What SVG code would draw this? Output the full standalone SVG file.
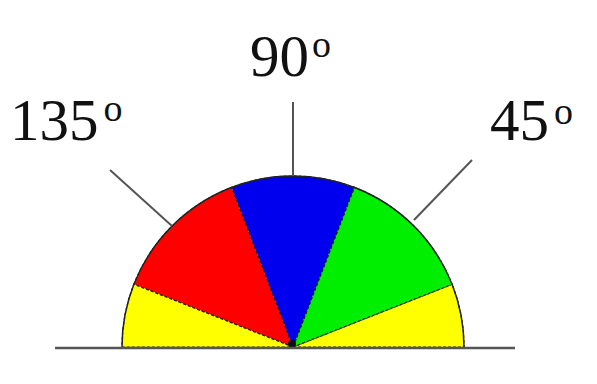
<svg xmlns="http://www.w3.org/2000/svg" width="597" height="384" viewBox="0 0 597 384">
<style>
.lbl{font-family:"Liberation Serif","Times New Roman",serif;font-size:59px;fill:#111}
.sup{font-size:38px}
.seg{stroke:#222;stroke-width:1.2;stroke-dasharray:3 2;stroke-linejoin:round}
.ptr{stroke:#555;stroke-width:2;fill:none}
</style>
<rect width="597" height="384" fill="#ffffff"/>
<g id="dial">
<path id="yellow-right" class="seg" fill="#ffff00" d="M293 347 L464 347 A171 171 0 0 0 452.1 284.3 Z"/>
<path id="green" class="seg" fill="#00ee00" d="M293 347 L452.1 284.3 A171 171 0 0 0 354.3 187.4 Z"/>
<path id="blue" class="seg" fill="#0000ee" d="M293 347 L354.3 187.4 A171 171 0 0 0 231.7 187.4 Z"/>
<path id="red" class="seg" fill="#ff0000" d="M293 347 L231.7 187.4 A171 171 0 0 0 133.9 284.3 Z"/>
<path id="yellow-left" class="seg" fill="#ffff00" d="M293 347 L133.9 284.3 A171 171 0 0 0 122 347 Z"/>
<path d="M464 347 A171 171 0 0 0 122 347" fill="none" stroke="#222" stroke-width="1.5"/>
<circle cx="292" cy="344" r="4" fill="#111"/>
</g>
<g id="baseline"><line x1="55" y1="348" x2="515" y2="348" stroke="#555" stroke-width="2.5"/></g>
<g id="connectors">
<line class="ptr" x1="293" y1="176" x2="293" y2="102"/>
<line class="ptr" x1="172" y1="226" x2="110" y2="170"/>
<line class="ptr" x1="414" y1="220" x2="472" y2="160"/>
</g>
<g id="label-90"><text class="lbl" x="250" y="76">90<tspan class="sup" dx="3" dy="-19">o</tspan></text></g>
<g id="label-135"><text class="lbl" x="10" y="140">135<tspan class="sup" dx="5" dy="-19">o</tspan></text></g>
<g id="label-45"><text class="lbl" x="490" y="140">45<tspan class="sup" dx="5" dy="-16">o</tspan></text></g>
</svg>
